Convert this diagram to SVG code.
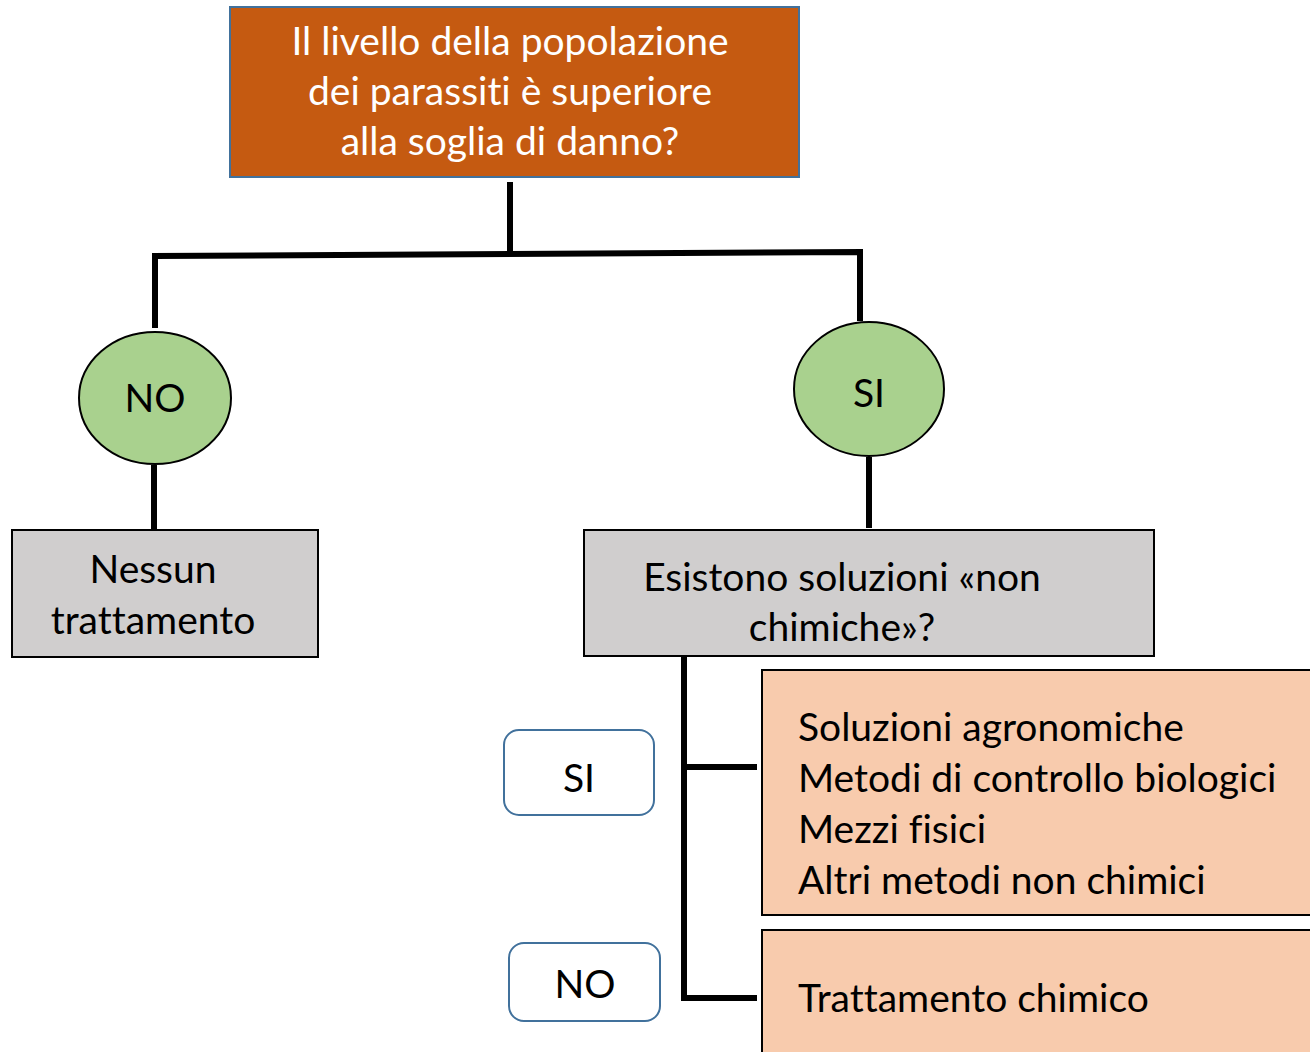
<svg xmlns="http://www.w3.org/2000/svg" width="1310" height="1052" viewBox="0 0 1310 1052">
<style>
text{font-family:Lato,"Open Sans","Noto Sans",sans-serif;font-size:39px;fill:#000;font-variant-ligatures:none}
.w{fill:#fff}
.c{text-anchor:middle}
.ln{stroke:#000;stroke-width:6;fill:none}
.grey{fill:#D0CECE;stroke:#000;stroke-width:2}
.salmon{fill:#F8CBAD;stroke:#000;stroke-width:2}
.green{fill:#A9D18E;stroke:#000;stroke-width:2}
.tag{fill:#fff;stroke:#41719C;stroke-width:2}
</style>
<rect width="1310" height="1052" fill="#fff"/>
<g id="connectors">
<line class="ln" x1="510" y1="182" x2="510" y2="254"/>
<polyline class="ln" points="155,328 155,256 860,252 860,321"/>
<line class="ln" x1="154" y1="465" x2="154" y2="530"/>
<line class="ln" x1="869" y1="457" x2="869" y2="528"/>
<polyline class="ln" points="684,656 684,998 757,998"/>
<line class="ln" x1="684" y1="767" x2="757" y2="767"/>
</g>
<g id="root">
<rect x="230" y="7" width="569" height="170" fill="#C55A11" stroke="#41719C" stroke-width="2"/>
<text class="w c" x="510" y="55">Il livello della popolazione</text>
<text class="w c" x="510" y="105">dei parassiti è superiore</text>
<text class="w c" x="510" y="155">alla soglia di danno?</text>
</g>
<g id="no-circle">
<ellipse class="green" cx="155" cy="398" rx="76" ry="66"/>
<text class="c" x="155" y="412">NO</text>
</g>
<g id="si-circle">
<ellipse class="green" cx="869" cy="389" rx="75" ry="67"/>
<text class="c" x="869" y="407">SI</text>
</g>
<g id="nessun">
<rect class="grey" x="12" y="530" width="306" height="127"/>
<text class="c" x="153" y="583">Nessun</text>
<text class="c" x="153" y="634">trattamento</text>
</g>
<g id="esistono">
<rect class="grey" x="584" y="530" width="570" height="126"/>
<text class="c" x="842" y="591">Esistono soluzioni «non</text>
<text class="c" x="842" y="641">chimiche»?</text>
</g>
<g id="tag-si">
<rect class="tag" x="504" y="730" width="150" height="85" rx="15"/>
<text class="c" x="579" y="792">SI</text>
</g>
<g id="tag-no">
<rect class="tag" x="509" y="943" width="151" height="78" rx="15"/>
<text class="c" x="585" y="998">NO</text>
</g>
<g id="non-chimici">
<rect class="salmon" x="762" y="670" width="560" height="245"/>
<text x="798" y="741">Soluzioni agronomiche</text>
<text x="798" y="792">Metodi di controllo biologici</text>
<text x="798" y="843">Mezzi fisici</text>
<text x="798" y="894">Altri metodi non chimici</text>
</g>
<g id="chimico">
<rect class="salmon" x="762" y="930" width="560" height="140"/>
<text x="798" y="1012">Trattamento chimico</text>
</g>
</svg>
